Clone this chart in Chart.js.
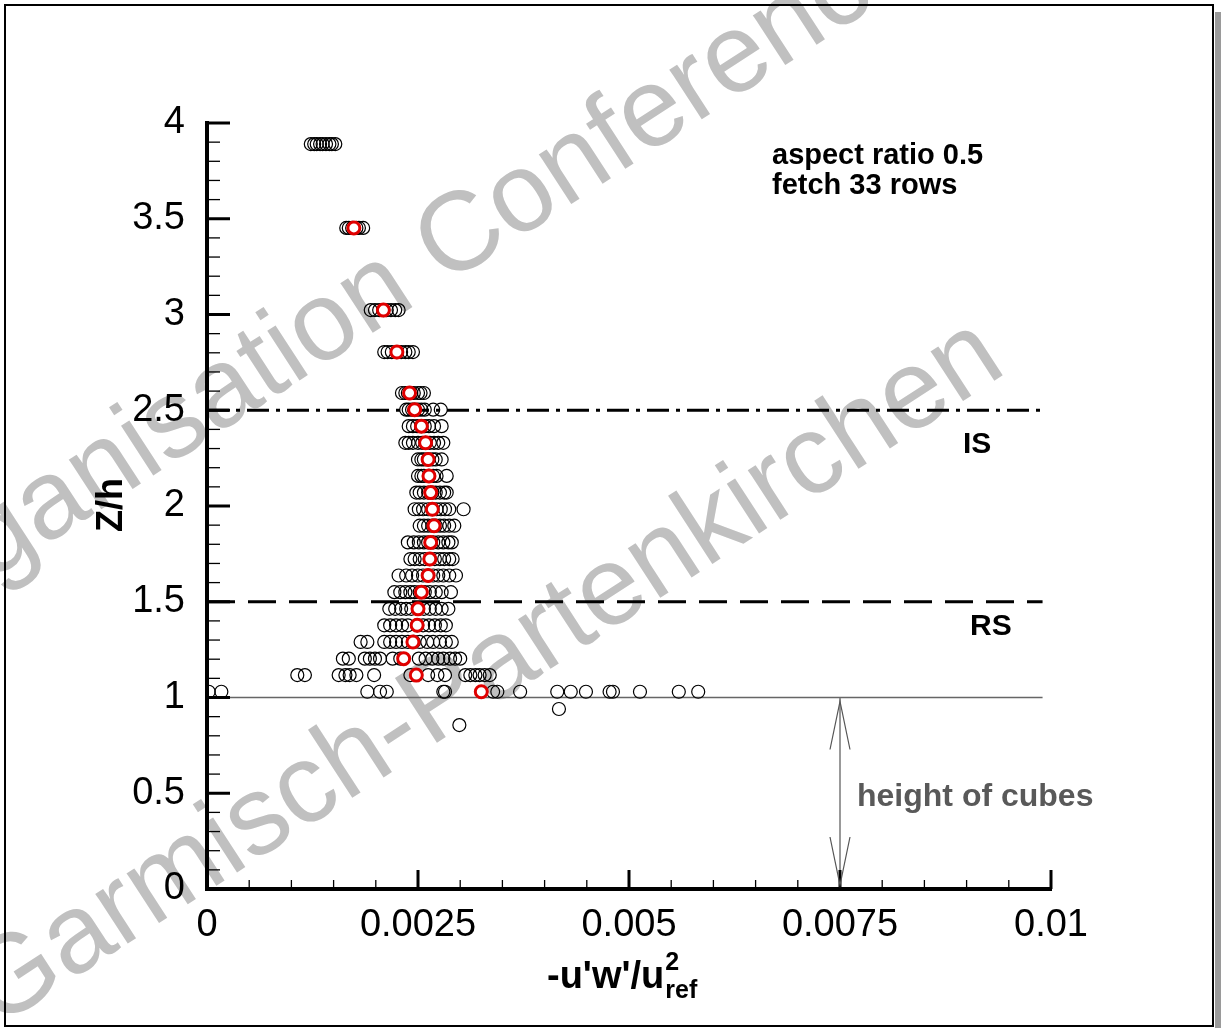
<!DOCTYPE html>
<html>
<head>
<meta charset="utf-8">
<script src="https://cdn.jsdelivr.net/npm/chart.js@4.4.1/dist/chart.umd.min.js"></script>
<style>
html, body { margin: 0; padding: 0; background: #fff; }
canvas { display: block; }
</style>
</head>
<body>
<canvas id="ScatterChart" width="1221" height="1028"></canvas>
<script>
// Z/h level of each measured row
var zLevels = [3.89, 3.452, 3.023, 2.804, 2.59, 2.503, 2.417, 2.33, 2.243, 2.157, 2.07, 1.983, 1.897,
    1.81, 1.723, 1.637, 1.55, 1.463, 1.377, 1.29, 1.203, 1.117, 1.03, 0.94, 0.856];

// -u'w'/u_ref^2 of all single profiles, one list per row
var rowValues = [
    [0.00123, 0.00127, 0.00130, 0.00134, 0.00137, 0.00141, 0.00145, 0.00148, 0.00152],
    [0.00165, 0.00168, 0.00172, 0.00177, 0.00180, 0.00185],
    [0.00194, 0.00199, 0.00204, 0.00209, 0.00213, 0.00218, 0.00223, 0.00227],
    [0.00210, 0.00214, 0.00219, 0.00225, 0.00230, 0.00235, 0.00239, 0.00244],
    [0.00231, 0.00235, 0.00238, 0.00242, 0.00245, 0.00250, 0.00253, 0.00257],
    [0.00236, 0.00239, 0.00243, 0.00246, 0.00250, 0.00254, 0.00258, 0.00268, 0.00277],
    [0.00239, 0.00244, 0.00249, 0.00254, 0.00258, 0.00263, 0.00269, 0.00278],
    [0.00235, 0.00239, 0.00244, 0.00250, 0.00255, 0.00259, 0.00264, 0.00269, 0.00274, 0.00280],
    [0.00250, 0.00254, 0.00257, 0.00262, 0.00267, 0.00271, 0.00278],
    [0.00250, 0.00254, 0.00257, 0.00263, 0.00268, 0.00272, 0.00284],
    [0.00248, 0.00252, 0.00257, 0.00262, 0.00267, 0.00271, 0.00276, 0.00281, 0.00284],
    [0.00246, 0.00251, 0.00256, 0.00262, 0.00267, 0.00272, 0.00277, 0.00282, 0.00287, 0.00304],
    [0.00252, 0.00257, 0.00262, 0.00267, 0.00271, 0.00276, 0.00281, 0.00287, 0.00293],
    [0.00238, 0.00245, 0.00251, 0.00257, 0.00262, 0.00268, 0.00274, 0.00280, 0.00286, 0.00290],
    [0.00241, 0.00246, 0.00252, 0.00258, 0.00264, 0.00270, 0.00276, 0.00281, 0.00287, 0.00291],
    [0.00227, 0.00236, 0.00243, 0.00250, 0.00256, 0.00262, 0.00268, 0.00274, 0.00280, 0.00287, 0.00295],
    [0.00222, 0.00229, 0.00235, 0.00241, 0.00246, 0.00252, 0.00258, 0.00264, 0.00271, 0.00278, 0.00289],
    [0.00216, 0.00223, 0.00230, 0.00236, 0.00242, 0.00250, 0.00257, 0.00264, 0.00271, 0.00278, 0.00286],
    [0.00210, 0.00217, 0.00224, 0.00231, 0.00238, 0.00249, 0.00256, 0.00263, 0.00270, 0.00277, 0.00283],
    [0.00182, 0.00190, 0.00210, 0.00217, 0.00224, 0.00231, 0.00238, 0.00245, 0.00252, 0.00261, 0.00268, 0.00276, 0.00283, 0.00290],
    [0.00161, 0.00168, 0.00187, 0.00193, 0.00199, 0.00205, 0.00220, 0.00229, 0.00251, 0.00259, 0.00267, 0.00274, 0.00280, 0.00288, 0.00294, 0.00300],
    [0.00107, 0.00116, 0.00156, 0.00164, 0.00169, 0.00177, 0.00198, 0.00241, 0.00262, 0.00273, 0.00282, 0.00306, 0.00312, 0.00318, 0.00323, 0.00329, 0.00335],
    [0.00002, 0.00017, 0.00190, 0.00205, 0.00213, 0.00280, 0.00282, 0.00339, 0.00344, 0.00371, 0.00415, 0.00431, 0.00449, 0.00477, 0.00481, 0.00513, 0.00559, 0.00582],
    [0.00417],
    [0.00299]
];

// row mean (red circles), null where there is none
var meanValues = [null, 0.00174, 0.00209, 0.00225, 0.00240, 0.00246, 0.00254, 0.00259, 0.00262, 0.00263,
    0.00265, 0.00267, 0.00269, 0.00265, 0.00264, 0.00262, 0.00254, 0.00250, 0.00249, 0.00244, 0.00233,
    0.00248, 0.00325, null, null];

// reference levels
var cubeHeight = 1.0;
var rsTop = 1.5;
var isTop = 2.5;
var lineEnd = 0.0099;
var arrowX = 0.0075;

var xTicks = ['0', '0.0025', '0.005', '0.0075', '0.01'];
var yTicks = ['0', '0.5', '1', '1.5', '2', '2.5', '3', '3.5', '4'];

var FONT = 'Arial, "Liberation Sans", sans-serif';

var singlePoints = [];
var meanPoints = [];
for (var i = 0; i < zLevels.length; i++) {
    for (var j = 0; j < rowValues[i].length; j++) {
        singlePoints.push({ x: rowValues[i][j], y: zLevels[i] });
    }
    if (meanValues[i] !== null) meanPoints.push({ x: meanValues[i], y: zLevels[i] });
}

function hLine(y) {
    return [{ x: 0, y: y }, { x: lineEnd, y: y }];
}

function watermark(ctx, text, x, y) {
    ctx.save();
    ctx.fillStyle = '#c0c0c0';
    ctx.font = '112px ' + FONT;
    ctx.textBaseline = 'alphabetic';
    ctx.translate(x, y);
    ctx.rotate(-33 * Math.PI / 180);
    ctx.fillText(text, 0, 0);
    ctx.restore();
}

// white page, watermark under everything else
var background = {
    id: 'background',
    beforeDraw: function(chart) {
        var ctx = chart.ctx;
        ctx.save();
        ctx.fillStyle = '#fff';
        ctx.fillRect(0, 0, chart.width, chart.height);
        ctx.restore();
        watermark(ctx, 'Organisation Conference', -114, 649);
        watermark(ctx, 'Garmisch-Partenkirchen', -4, 1029);
    }
};

// inward ticks, arrows, texts and frame
var decorations = {
    id: 'decorations',
    afterDraw: function(chart) {
        var ctx = chart.ctx, xs = chart.scales.x, ys = chart.scales.y, a = chart.chartArea;
        var i, p, major;
        ctx.save();
        ctx.strokeStyle = '#000';
        for (i = 0; i <= 20; i++) {
            p = xs.getPixelForValue(i * 0.0005);
            major = i % 5 === 0;
            ctx.lineWidth = major ? 3 : 1.3;
            ctx.beginPath();
            ctx.moveTo(p, a.bottom);
            ctx.lineTo(p, a.bottom - (major ? 19 : 9));
            ctx.stroke();
        }
        for (i = 0; i <= 40; i++) {
            p = ys.getPixelForValue(i * 0.1);
            major = i % 5 === 0;
            ctx.lineWidth = major ? 3 : 1.3;
            ctx.beginPath();
            ctx.moveTo(a.left, p);
            ctx.lineTo(a.left + (major ? 23 : 13), p);
            ctx.stroke();
        }

        // double arrow for the cube height
        var ax = xs.getPixelForValue(arrowX);
        var top = ys.getPixelForValue(cubeHeight) + 4;
        var bot = ys.getPixelForValue(0) - 4;
        ctx.strokeStyle = '#555';
        ctx.lineWidth = 1.2;
        ctx.beginPath();
        ctx.moveTo(ax - 10, top + 48); ctx.lineTo(ax, top); ctx.lineTo(ax + 10, top + 48);
        ctx.moveTo(ax - 10, bot - 48); ctx.lineTo(ax, bot); ctx.lineTo(ax + 10, bot - 48);
        ctx.stroke();

        ctx.fillStyle = '#000';
        ctx.font = 'bold 29px ' + FONT;
        ctx.textAlign = 'left';
        ctx.textBaseline = 'alphabetic';
        ctx.fillText('aspect ratio 0.5', 772, 164);
        ctx.fillText('fetch 33 rows', 772, 194);
        ctx.font = 'bold 30px ' + FONT;
        ctx.fillText('IS', 963, 453);
        ctx.fillText('RS', 970, 635);

        ctx.fillStyle = '#595959';
        ctx.font = 'bold 32px ' + FONT;
        ctx.fillText('height of cubes', 857, 806);

        // axis titles
        ctx.fillStyle = '#000';
        ctx.font = 'bold 36px ' + FONT;
        ctx.save();
        ctx.translate(122, 505);
        ctx.rotate(-Math.PI / 2);
        ctx.textAlign = 'center';
        ctx.fillText('Z/h', 0, 0);
        ctx.restore();

        var tx = 547, ty = 988;
        ctx.font = 'bold 38px ' + FONT;
        ctx.fillText("-u'w'/u", tx, ty);
        var w = ctx.measureText("-u'w'/u").width;
        ctx.font = 'bold 25px ' + FONT;
        ctx.fillText('2', tx + w + 1, ty - 18);
        ctx.fillText('ref', tx + w + 1, ty + 10);

        // frame
        ctx.strokeStyle = '#000';
        ctx.lineWidth = 2;
        ctx.strokeRect(5, 5, 1208, 1021);
        ctx.fillStyle = '#9a9a9a';
        ctx.fillRect(1215, 12, 6, 1016);
        ctx.restore();
    }
};

var ctx = document.getElementById('ScatterChart').getContext('2d');
var myChart = new Chart(ctx, {
    type: 'scatter',
    data: {
        datasets: [{
            label: 'mean',
            data: meanPoints,
            order: 0,
            pointRadius: 6,
            pointBorderWidth: 3,
            borderColor: '#e00000',
            backgroundColor: '#fff'
        }, {
            label: 'profiles',
            data: singlePoints,
            order: 1,
            pointRadius: 6.5,
            pointBorderWidth: 1.2,
            borderColor: '#000',
            backgroundColor: 'rgba(0,0,0,0)'
        }, {
            type: 'line',
            label: 'cube height',
            data: hLine(cubeHeight),
            order: 2,
            borderColor: '#666',
            borderWidth: 1.3,
            pointRadius: 0
        }, {
            type: 'line',
            label: 'RS',
            data: hLine(rsTop),
            order: 2,
            borderColor: '#000',
            borderWidth: 3,
            borderDash: [28, 13],
            pointRadius: 0
        }, {
            type: 'line',
            label: 'IS',
            data: hLine(isTop),
            order: 2,
            borderColor: '#000',
            borderWidth: 3,
            borderDash: [22, 7, 4, 7],
            pointRadius: 0
        }, {
            type: 'line',
            label: 'arrow',
            data: [{ x: arrowX, y: 0 }, { x: arrowX, y: cubeHeight }],
            order: 2,
            borderColor: '#555',
            borderWidth: 1.2,
            pointRadius: 0
        }]
    },
    options: {
        responsive: false,
        animation: false,
        layout: { padding: { left: 0, top: 123, right: 170, bottom: 0 } },
        plugins: { legend: { display: false }, tooltip: { enabled: false } },
        scales: {
            x: {
                type: 'linear',
                min: 0,
                max: 0.01,
                afterFit: function(scale) { scale.height = 139; },
                grid: { display: false, drawTicks: false },
                border: { display: true, color: '#000', width: 4 },
                ticks: {
                    stepSize: 0.0025,
                    padding: 14,
                    color: '#000',
                    font: { family: FONT, size: 38 },
                    callback: function(v, i) { return xTicks[Math.round(v / 0.0025)]; }
                }
            },
            y: {
                type: 'linear',
                min: 0,
                max: 4,
                afterFit: function(scale) { scale.width = 207; },
                grid: { display: false, drawTicks: false },
                border: { display: true, color: '#000', width: 4 },
                ticks: {
                    stepSize: 0.5,
                    padding: 22,
                    color: '#000',
                    font: { family: FONT, size: 38 },
                    callback: function(v) { return yTicks[Math.round(v / 0.5)]; }
                }
            }
        }
    },
    plugins: [background, decorations]
});
</script>
</body>
</html>
